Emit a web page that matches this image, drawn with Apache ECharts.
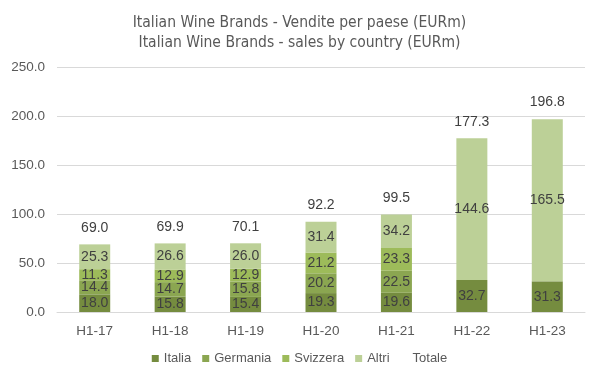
<!DOCTYPE html>
<html>
<head>
<meta charset="utf-8">
<script src="https://cdn.jsdelivr.net/npm/echarts@6/dist/echarts.min.js"></script>
<style>
  html, body { margin: 0; padding: 0; background: #fff; }
  #chart { width: 599px; height: 378px; }
</style>
</head>
<body>
<div id="chart"></div>
<script>
// values (EURm)
const categories = ['H1-17', 'H1-18', 'H1-19', 'H1-20', 'H1-21', 'H1-22', 'H1-23']
const italia = [18.0, 15.8, 15.4, 19.3, 19.6, 32.7, 31.3]
const germania = [14.4, 14.7, 15.8, 20.2, 22.5, null, null]
const svizzera = [11.3, 12.9, 12.9, 21.2, 23.3, null, null]
const altri = [25.3, 26.6, 26.0, 31.4, 34.2, 144.6, 165.5]
const totale = [69.0, 69.9, 70.1, 92.2, 99.5, 177.3, 196.8]

const colors = {
  Italia: '#758c3f',
  Germania: '#8ba651',
  Svizzera: '#9dbb5a',
  Altri: '#bcd097',
}

const labelFont = 'Liberation Sans, Arial, sans-serif'

function stackSeries(name, data) {
  return {
    name,
    type: 'bar',
    stack: 'tot',
    barWidth: 31,
    data,
    itemStyle: { color: colors[name] },
    label: {
      show: true,
      position: 'inside',
      color: '#404040',
      fontFamily: labelFont,
      fontSize: 14,
      formatter: (p) => (p.value == null ? '' : p.value.toFixed(1)),
    },
    emphasis: { disabled: true },
  }
}

const chart = echarts.init(document.getElementById('chart'))
chart.setOption({
  animation: false,
  title: {
    text: 'Italian Wine Brands - Vendite per paese (EURm)\nItalian Wine Brands - sales by country (EURm)',
    left: 'center',
    top: 8,
    textStyle: {
      fontFamily: 'DejaVu Sans Condensed, sans-serif',
      fontWeight: 'normal',
      fontSize: 15.5,
      lineHeight: 20,
      color: '#595959',
    },
  },
  legend: {
    bottom: 8,
    left: 'center',
    itemWidth: 7,
    itemHeight: 7,
    itemGap: 11,
    textStyle: { fontFamily: labelFont, fontSize: 13, color: '#595959' },
    data: [
      { name: 'Italia', icon: 'rect' },
      { name: 'Germania', icon: 'rect' },
      { name: 'Svizzera', icon: 'rect' },
      { name: 'Altri', icon: 'rect' },
      { name: 'Totale', icon: 'rect', itemStyle: { opacity: 0 } },
    ],
  },
  grid: { left: 57, right: 14, top: 67, bottom: 66 },
  xAxis: {
    type: 'category',
    data: categories,
    axisLine: { lineStyle: { color: '#d9d9d9' } },
    axisTick: { show: false },
    axisLabel: { color: '#595959', fontFamily: labelFont, fontSize: 13.5, margin: 12 },
  },
  yAxis: {
    type: 'value',
    min: 0,
    max: 250,
    interval: 50,
    axisLine: { show: false },
    axisTick: { show: false },
    splitLine: { lineStyle: { color: '#d9d9d9' } },
    axisLabel: {
      color: '#595959',
      fontFamily: labelFont,
      fontSize: 13.5,
      margin: 12,
      formatter: (v) => v.toFixed(1),
    },
  },
  series: [
    stackSeries('Italia', italia),
    stackSeries('Germania', germania),
    stackSeries('Svizzera', svizzera),
    stackSeries('Altri', altri),
    {
      name: 'Totale',
      type: 'line',
      data: totale,
      symbol: 'circle',
      symbolSize: 1,
      showSymbol: true,
      lineStyle: { opacity: 0 },
      itemStyle: { color: 'rgba(0,0,0,0)' },
      label: {
        show: true,
        position: 'top',
        distance: 9,
        color: '#404040',
        fontFamily: labelFont,
        fontSize: 14,
        formatter: (p) => p.value.toFixed(1),
      },
      emphasis: { disabled: true },
    },
  ],
})
</script>
</body>
</html>
